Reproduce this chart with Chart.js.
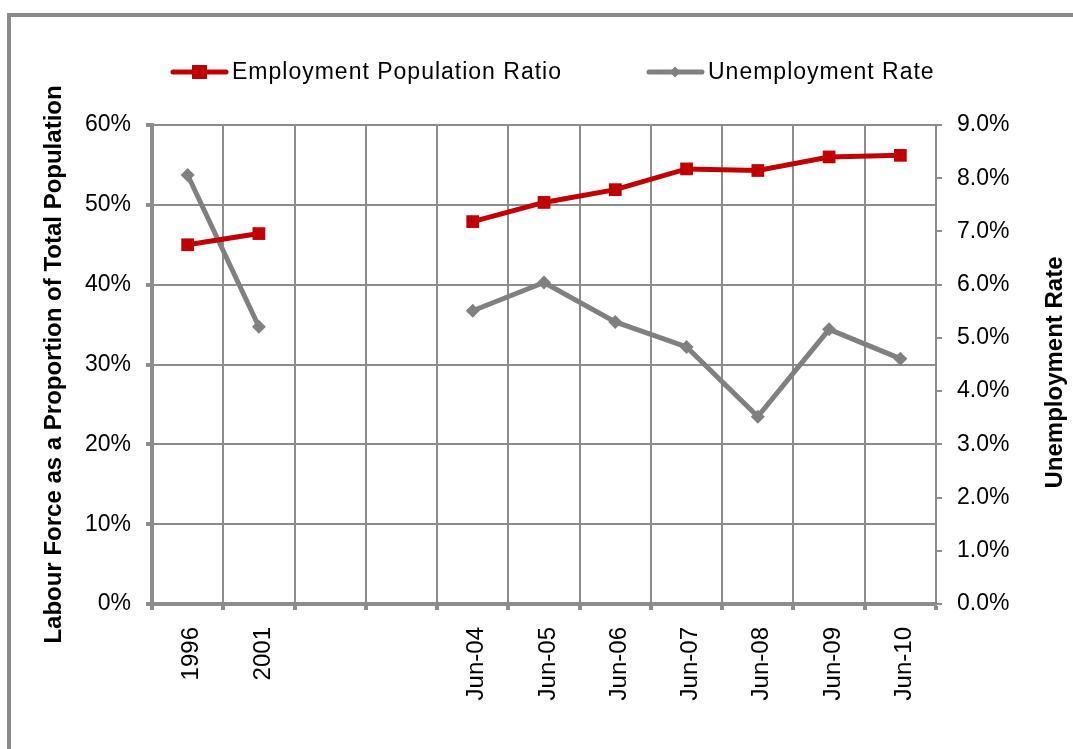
<!DOCTYPE html>
<html>
<head>
<meta charset="utf-8">
<script src="https://cdn.jsdelivr.net/npm/chart.js@4"></script>
<style>
  html, body { margin: 0; padding: 0; background: #fff; overflow: hidden; }
  #wrap { position: relative; width: 1073px; height: 749px; overflow: hidden; }
  #frame { position: absolute; left: 7px; top: 13px; width: 2000px; height: 2000px;
           border-left: 4px solid #8a8a8a; border-top: 4px solid #8a8a8a; }
  canvas { position: absolute; left: 0; top: 0; }
</style>
</head>
<body>
<div id="wrap">
  <div id="frame"></div>
  <canvas id="chart" width="1073" height="749"></canvas>
</div>
<script>
// categories (two blank slots keep the gap between 2001 and Jun-04)
var categories = ['1996', '2001', '', '', 'Jun-04', 'Jun-05', 'Jun-06', 'Jun-07', 'Jun-08', 'Jun-09', 'Jun-10'];
// left axis, percent of total population
var employmentRatio = [45.0, 46.4, null, null, 47.9, 50.3, 51.9, 54.5, 54.3, 56.0, 56.2];
// right axis, percent
var unemploymentRate = [8.06, 5.21, null, null, 5.51, 6.04, 5.30, 4.83, 3.52, 5.16, 4.61];

var leftTitle = 'Labour Force as a Proportion of Total Population';
var rightTitle = 'Unemployment Rate';

var FONT = "'Liberation Sans', Arial, sans-serif";
var RED = '#c00000';
var GREY = '#808080';
var GRID = '#8c8c8c';

// legend drawn by hand so it can carry the line + marker sample
var legendPlugin = {
  id: 'lineLegend',
  afterDraw: function(chart) {
    var ctx = chart.ctx;
    var x = 171, y = 72;
    ctx.save();
    ctx.font = '23px ' + FONT;
    ctx.letterSpacing = '1px';
    ctx.textBaseline = 'middle';
    chart.data.datasets.forEach(function(ds) {
      ctx.strokeStyle = ds.borderColor;
      ctx.lineWidth = 5;
      ctx.lineCap = 'round';
      ctx.beginPath();
      ctx.moveTo(x + 2, y);
      ctx.lineTo(x + 55, y);
      ctx.stroke();
      ctx.fillStyle = ds.backgroundColor;
      ctx.beginPath();
      if (ds.pointStyle === 'rect') {
        ctx.rect(x + 21, y - 7, 15, 14);
      } else {
        ctx.moveTo(x + 28, y - 5.5);
        ctx.lineTo(x + 33.5, y);
        ctx.lineTo(x + 28, y + 5.5);
        ctx.lineTo(x + 22.5, y);
        ctx.closePath();
      }
      ctx.fill();
      ctx.fillStyle = '#000';
      ctx.fillText(ds.label, x + 61, y + 1);
      x += 61 + ctx.measureText(ds.label).width + 85;
    });
    ctx.restore();
  }
};

// right axis title reads bottom-to-top like the left one
var rightTitlePlugin = {
  id: 'rightTitle',
  afterDraw: function(chart) {
    var ctx = chart.ctx;
    var s = chart.scales.y1;
    ctx.save();
    ctx.translate(s.right - 18, (chart.chartArea.top + chart.chartArea.bottom) / 2 + 8);
    ctx.rotate(-Math.PI / 2);
    ctx.font = 'bold 24px ' + FONT;
    ctx.fillStyle = '#000';
    ctx.textAlign = 'center';
    ctx.textBaseline = 'middle';
    ctx.fillText(rightTitle, 0, 0);
    ctx.restore();
  }
};

new Chart(document.getElementById('chart'), {
  type: 'line',
  data: {
    labels: categories,
    datasets: [
      {
        label: 'Employment Population Ratio',
        data: employmentRatio,
        yAxisID: 'y',
        borderColor: RED,
        backgroundColor: RED,
        borderWidth: 5,
        pointStyle: 'rect',
        pointRadius: 9,
        pointBorderWidth: 0,
        tension: 0,
        spanGaps: false
      },
      {
        label: 'Unemployment Rate',
        data: unemploymentRate,
        yAxisID: 'y1',
        borderColor: GREY,
        backgroundColor: GREY,
        borderWidth: 5,
        pointStyle: 'rectRot',
        pointRadius: 7,
        pointBorderWidth: 0,
        tension: 0,
        spanGaps: false
      }
    ]
  },
  options: {
    responsive: false,
    animation: false,
    devicePixelRatio: 1,
    layout: { padding: { top: 125, left: 0, right: 0, bottom: 0 } },
    plugins: {
      legend: { display: false },
      tooltip: { enabled: false }
    },
    scales: {
      x: {
        offset: true,
        grid: { offset: true, color: GRID, lineWidth: 2, tickLength: 6, tickWidth: 4, tickColor: GRID },
        border: { color: GRID, width: 4 },
        ticks: {
          autoSkip: false, minRotation: 90, maxRotation: 90, padding: 17, labelOffset: 4,
          color: '#000', font: { family: FONT, size: 24 }
        },
        afterFit: function(scale) { scale.height = 145; }
      },
      y: {
        position: 'left',
        min: 0, max: 60,
        grid: { color: GRID, lineWidth: 2, tickLength: 6, tickWidth: 4, tickColor: GRID },
        border: { color: GRID, width: 4 },
        ticks: {
          stepSize: 10, padding: 15, color: '#000', font: { family: FONT, size: 23 },
          callback: function(v) { return v + '%'; }
        },
        title: {
          display: true, text: leftTitle, color: '#000',
          font: { family: FONT, size: 24, weight: 'bold' },
          padding: { top: 40, bottom: 0 }
        },
        afterFit: function(scale) { scale.width = 152; }
      },
      y1: {
        position: 'right',
        min: 0, max: 9,
        grid: { drawOnChartArea: false, color: GRID, lineWidth: 2, tickLength: 6, tickWidth: 2, tickColor: GRID },
        border: { color: GRID, width: 2 },
        ticks: {
          stepSize: 1, padding: 15, color: '#000', font: { family: FONT, size: 23 },
          callback: function(v) { return v.toFixed(1) + '%'; }
        },
        afterFit: function(scale) { scale.width = 137; }
      }
    }
  },
  plugins: [legendPlugin, rightTitlePlugin]
});
</script>
</body>
</html>
